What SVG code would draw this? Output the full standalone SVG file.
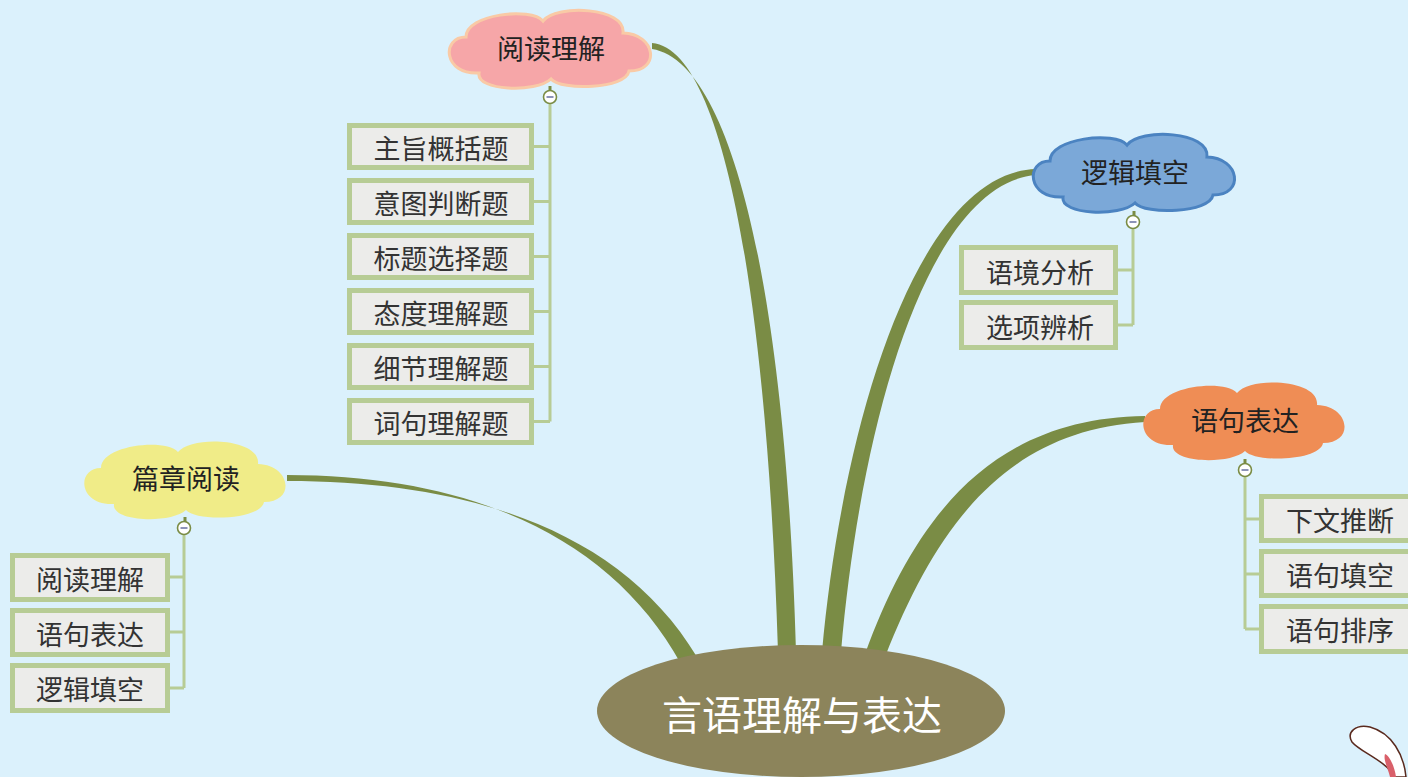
<svg xmlns="http://www.w3.org/2000/svg" xmlns:xlink="http://www.w3.org/1999/xlink" width="1408" height="777" viewBox="0 0 1408 777">
  <style>
    .txt { font-family: "Noto Sans CJK SC", "Noto Sans", sans-serif; text-anchor: middle; dominant-baseline: central; }
    .topic { font-size: 27px; fill: #222; }
    .leaf { font-size: 27px; fill: #333; }
    .root { font-size: 40px; fill: #ffffff; }
    .box { fill: #ececea; stroke: #b7cc95; stroke-width: 5; }
    .tree { fill: none; stroke: #b7cc95; stroke-width: 3; }
    .stem { fill: none; stroke: #7a8c45; stroke-width: 3; }
    .branch { fill: #7a8c45; }
    .toggle { fill: #ffffff; stroke: #7a8c45; stroke-width: 1.6; }
    .minus { stroke: #8c93b8; stroke-width: 2; }
  </style>
  <defs>
    <path id="cloud" d="M -85 -12 C -85 -35 -20 -42 -8 -28 C 5 -45 75 -42 72 -16 C 105 -15 110 22 78 22 C 75 40 10 42 0 30 C -15 44 -75 42 -72 24 C -108 26 -110 -12 -85 -12 Z"/>
    <g id="toggle">
      <circle class="toggle" r="6.5"/>
      <line class="minus" x1="-3.5" y1="0" x2="3.5" y2="0"/>
    </g>
  </defs>

  <rect width="1408" height="777" fill="#dbf1fc"/>

  <!-- tapered main branches -->
  <g id="connectors">
    <path class="branch" d="M 652 43 C 724 49 767 300 778 652 L 796 652 C 786 300 734 62 652 49 Z"/>
    <path class="branch" d="M 822 652 C 843 420 918 173 1036 169 L 1036 175 C 928 184 861 420 841 652 Z"/>
    <path class="branch" d="M 865 654 C 918 508 998 418 1145 416 L 1145 422 C 1008 430 938 522 885 657 Z"/>
    <path class="branch" d="M 287 475 C 472 475 612 538 681 664 L 697 657 C 622 532 472 481 287 481 Z"/>

    <!-- sub-topic trees -->
    <path class="stem" d="M 550 86 V 91"/>
    <path class="tree" d="M 550 103 V 421.5 M 534 146.5 H 550 M 534 201.5 H 550 M 534 256.5 H 550 M 534 311.5 H 550 M 534 366.5 H 550 M 534 421.5 H 550"/>
    <path class="stem" d="M 1134 211 V 216"/>
    <path class="tree" d="M 1133 228 V 325 M 1118 270 H 1133 M 1118 325 H 1133"/>
    <path class="stem" d="M 1245 459 V 464"/>
    <path class="tree" d="M 1245 476 V 629 M 1245 519 H 1259 M 1245 574 H 1259 M 1245 629 H 1259"/>
    <path class="stem" d="M 185 517 V 522"/>
    <path class="tree" d="M 184 534 V 688 M 170 577 H 184 M 170 632 H 184 M 170 688 H 184"/>
  </g>

  <!-- root -->
  <g id="root">
    <ellipse cx="801" cy="711" rx="204" ry="66" fill="#8c845b"/>
    <text class="txt root" x="802" y="713">言语理解与表达</text>
  </g>

  <!-- 阅读理解 -->
  <g id="topic-reading">
    <use xlink:href="#cloud" transform="translate(551 49)" fill="#f6a6a8" stroke="#f9caa6" stroke-width="3"/>
    <text class="txt topic" x="551" y="47">阅读理解</text>
    <use xlink:href="#toggle" x="550" y="97"/>
  </g>
  <g id="reading-1"><rect class="box" x="349.5" y="125.5" width="182" height="42"/><text class="txt leaf" x="441" y="147">主旨概括题</text></g>
  <g id="reading-2"><rect class="box" x="349.5" y="180.5" width="182" height="42"/><text class="txt leaf" x="441" y="202">意图判断题</text></g>
  <g id="reading-3"><rect class="box" x="349.5" y="235.5" width="182" height="42"/><text class="txt leaf" x="441" y="257">标题选择题</text></g>
  <g id="reading-4"><rect class="box" x="349.5" y="290.5" width="182" height="42"/><text class="txt leaf" x="441" y="312">态度理解题</text></g>
  <g id="reading-5"><rect class="box" x="349.5" y="345.5" width="182" height="42"/><text class="txt leaf" x="441" y="367">细节理解题</text></g>
  <g id="reading-6"><rect class="box" x="349.5" y="400.5" width="182" height="42"/><text class="txt leaf" x="441" y="422">词句理解题</text></g>

  <!-- 逻辑填空 -->
  <g id="topic-logic">
    <use xlink:href="#cloud" transform="translate(1135 173)" fill="#7ba8d8" stroke="#4b83c1" stroke-width="3"/>
    <text class="txt topic" x="1135" y="171">逻辑填空</text>
    <use xlink:href="#toggle" x="1133" y="222"/>
  </g>
  <g id="logic-1"><rect class="box" x="961.5" y="247.5" width="154" height="45"/><text class="txt leaf" x="1040" y="271">语境分析</text></g>
  <g id="logic-2"><rect class="box" x="961.5" y="302.5" width="154" height="45"/><text class="txt leaf" x="1040" y="326">选项辨析</text></g>

  <!-- 语句表达 -->
  <g id="topic-sentence">
    <use xlink:href="#cloud" transform="translate(1245 421)" fill="#ef8d55"/>
    <text class="txt topic" x="1245" y="419">语句表达</text>
    <use xlink:href="#toggle" x="1245" y="470"/>
  </g>
  <g id="sentence-1"><rect class="box" x="1261.5" y="496.5" width="160" height="44"/><text class="txt leaf" x="1340" y="519">下文推断</text></g>
  <g id="sentence-2"><rect class="box" x="1261.5" y="551.5" width="160" height="44"/><text class="txt leaf" x="1340" y="574">语句填空</text></g>
  <g id="sentence-3"><rect class="box" x="1261.5" y="606.5" width="160" height="45"/><text class="txt leaf" x="1340" y="629">语句排序</text></g>

  <!-- 篇章阅读 -->
  <g id="topic-passage">
    <use xlink:href="#cloud" transform="translate(186 480)" fill="#f0ec88"/>
    <text class="txt topic" x="186" y="477">篇章阅读</text>
    <use xlink:href="#toggle" x="184" y="528"/>
  </g>
  <g id="passage-1"><rect class="box" x="12.5" y="555.5" width="155" height="44"/><text class="txt leaf" x="90" y="578">阅读理解</text></g>
  <g id="passage-2"><rect class="box" x="12.5" y="610.5" width="155" height="44"/><text class="txt leaf" x="90" y="633">语句表达</text></g>
  <g id="passage-3"><rect class="box" x="12.5" y="665.5" width="155" height="45"/><text class="txt leaf" x="90" y="688">逻辑填空</text></g>

  <!-- corner decoration: rabbit ear -->
  <g id="ear">
    <path d="M 1395 777 C 1385 760 1360 752 1352 742 C 1346 732 1356 724 1370 727 C 1392 733 1404 755 1406 777 Z" fill="#ffffff" stroke="#5a2a1e" stroke-width="1.5"/>
    <path d="M 1385 754 C 1390 756 1395 768 1396 777 L 1390 777 C 1388 768 1383 760 1385 754 Z" fill="#d9606a"/>
  </g>
</svg>
